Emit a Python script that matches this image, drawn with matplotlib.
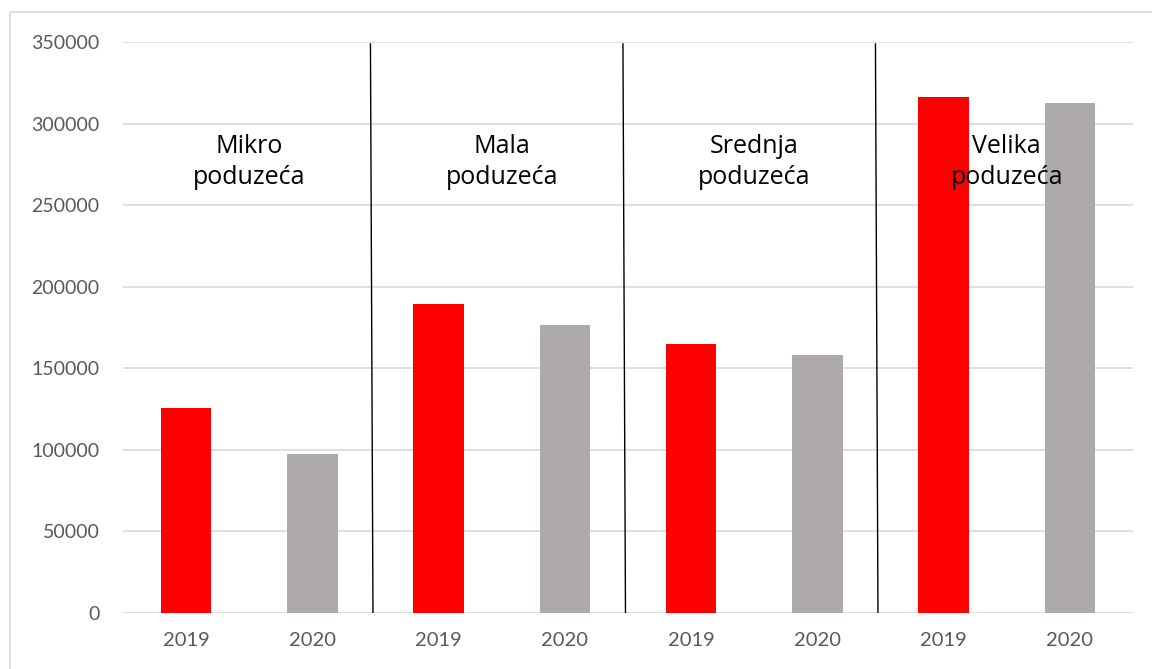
import matplotlib.pyplot as plt
from matplotlib.patches import Rectangle

# podaci
kategorije = ["2019", "2020", "2019", "2020", "2019", "2020", "2019", "2020"]
vrijednosti = [125800, 97500, 189600, 176500, 165100, 158100, 316300, 312600]
boje = ["#FF0000", "#AEAAAA"] * 4
grupe = ["Mikro\npoduzeća", "Mala\npoduzeća", "Srednja\npoduzeća", "Velika\npoduzeća"]
yticks = [0, 50000, 100000, 150000, 200000, 250000, 300000, 350000]

fig = plt.figure(figsize=(11.52, 6.69), dpi=100)
fig.patches.append(Rectangle((10 / 1152, -0.01), 1.02, 1 - 12 / 669 + 0.01,
                             transform=fig.transFigure, fill=False,
                             edgecolor="#d9d9d9", linewidth=1.2))
ax = fig.add_axes([123 / 1152, 1 - 613 / 669, 1010 / 1152, 571 / 669])

x = list(range(len(vrijednosti)))
ax.bar(x, vrijednosti, width=0.4, color=boje, zorder=3)

ax.set_xlim(-0.5, len(vrijednosti) - 0.5)
ax.set_ylim(0, 350000)
ax.set_yticks(yticks)
ax.set_yticklabels([str(v) for v in yticks])
ax.set_xticks(x)
ax.set_xticklabels(kategorije)
ax.grid(axis="y", color="#d9d9d9", linewidth=1.2, zorder=0)
for s in ax.spines.values():
    s.set_visible(False)
ax.tick_params(length=0, labelsize=14.5, labelcolor="#595959")
ax.tick_params(axis="y", labelsize=14, pad=17)
ax.tick_params(axis="x", pad=14)
for lbl in ax.get_xticklabels() + ax.get_yticklabels():
    lbl.set_family("Lato")

# okomite crte izmedju grupa
for i in range(1, len(grupe)):
    gx = 2 * i - 0.52
    ax.plot([gx - 0.02, gx], [348800, 0], color="black", linewidth=1, zorder=4)

# nazivi grupa
for i, g in enumerate(grupe):
    ax.text(2 * i + 0.5, 276500, g, ha="center", va="center", fontsize=18,
            family="Open Sans", linespacing=1.3, zorder=5)

fig.savefig("out.png", dpi=100)
